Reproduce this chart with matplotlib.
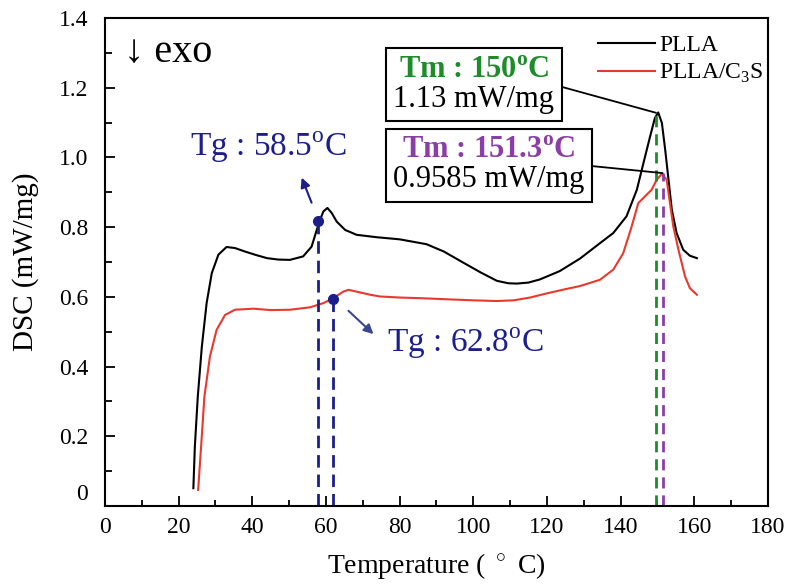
import numpy as np
import matplotlib
matplotlib.use("Agg")
import matplotlib.pyplot as plt
from matplotlib.offsetbox import TextArea, VPacker, AnnotationBbox

plt.rcParams['font.family'] = ['Liberation Serif', 'DejaVu Serif']
plt.rcParams['mathtext.fontset'] = 'custom'
plt.rcParams['mathtext.rm'] = 'Liberation Serif'
plt.rcParams['mathtext.bf'] = 'Liberation Serif:bold'

# PLLA curve
plla_t = [24.0, 24.4, 25.2, 26.3, 27.6, 29.0, 30.8, 33.0, 35.3, 38.0, 41.0, 44.0,
          47.0, 50.2, 53.8, 56.1, 57.5, 58.4, 59.3, 60.4, 61.6, 62.9, 65.2, 68.3,
          73.8, 80.0, 87.3, 92.0, 97.3, 102.0, 106.4, 109.5, 111.8, 115.0, 118.1,
          123.5, 129.0, 134.4, 138.0, 141.6, 144.4, 146.2, 148.0, 149.3, 150.2,
          151.2, 152.1, 153.0, 153.9, 155.2, 157.0, 158.8, 160.7]
plla_dsc = [0.051, 0.170, 0.314, 0.457, 0.582, 0.668, 0.721, 0.743, 0.740, 0.730, 0.720, 0.711,
            0.707, 0.706, 0.716, 0.744, 0.792, 0.821, 0.845, 0.855, 0.840, 0.816, 0.792, 0.778,
            0.771, 0.765, 0.751, 0.730, 0.698, 0.670, 0.646, 0.639, 0.638, 0.641, 0.650,
            0.674, 0.710, 0.754, 0.783, 0.831, 0.907, 0.984, 1.060, 1.113, 1.129,
            1.099, 1.022, 0.936, 0.850, 0.783, 0.735, 0.718, 0.711]

# PLLA/C3S curve
c3s_t = [25.3, 26.1, 27.0, 28.5, 30.3, 32.6, 35.3, 40.3, 45.0, 50.2, 55.7, 59.3,
         62.0, 64.7, 66.1, 68.3, 72.0, 74.7, 80.0, 86.0, 92.8, 100.0, 106.4, 111.0,
         115.4, 120.0, 125.0, 129.0, 134.4, 138.0, 140.7, 143.0, 144.8, 146.6, 148.4,
         149.8, 151.2, 152.5, 153.4, 154.3, 155.7, 157.5, 158.8, 160.7]
c3s_dsc = [0.046, 0.170, 0.314, 0.429, 0.505, 0.548, 0.563, 0.566, 0.562, 0.563, 0.570, 0.582,
           0.596, 0.615, 0.620, 0.615, 0.606, 0.601, 0.598, 0.596, 0.593, 0.590, 0.588, 0.590,
           0.598, 0.610, 0.622, 0.631, 0.649, 0.678, 0.725, 0.802, 0.869, 0.888, 0.907,
           0.936, 0.953, 0.936, 0.869, 0.802, 0.735, 0.658, 0.625, 0.606]

# characteristic points
tg_plla = (57.9, 0.819)
tg_c3s = (62.0, 0.593)
tm_plla = (149.6, 1.128)
tm_c3s = (151.4, 0.955)

x_ticks = [0, 20, 40, 60, 80, 100, 120, 140, 160, 180]
y_ticks = [0, 0.2, 0.4, 0.6, 0.8, 1.0, 1.2, 1.4]
y_labels = ["", "0.2", "0.4", "0.6", "0.8", "1.0", "1.2", "1.4"]

navy = '#1c1f8a'
red = '#e8392f'
green = '#1e8c2a'
purple = '#8a3fa6'

fig = plt.figure(figsize=(7.94, 5.84), dpi=100)
ax = fig.add_axes([0.1322, 0.1336, 0.835, 0.8356])

ax.plot(plla_t, plla_dsc, color='black', lw=1.5, label='PLLA', solid_joinstyle='round')
ax.plot(c3s_t, c3s_dsc, color=red, lw=1.5, label='PLLA/C$_3$S', solid_joinstyle='round')

# dashed markers of Tg / Tm
ax.vlines(tg_plla[0], 0, tg_plla[1], colors=navy, lw=2, linestyles=(0, (4.5, 2.5)))
ax.vlines(tg_c3s[0], 0, tg_c3s[1], colors=navy, lw=2, linestyles=(0, (4.5, 2.5)))
ax.vlines(tm_plla[0], 0, tm_plla[1], colors=green, lw=2, linestyles=(0, (4, 2.5)))
ax.vlines(tm_c3s[0], 0, tm_c3s[1], colors=purple, lw=2, linestyles=(0, (4, 2.5)))
ax.plot([tg_plla[0], tg_c3s[0]], [tg_plla[1], tg_c3s[1]], 'o', color=navy, ms=7, zorder=5)

# Tg labels
ax.text(23.1, 1.028, "Tg : 58.5$^{\\mathrm{o}}$C", color=navy, fontsize=24, ha='left', va='center')
ax.annotate("", xy=(53.4, 0.942), xytext=(56.1, 0.87),
            arrowprops=dict(arrowstyle='-|>', color=navy, lw=1.5, mutation_scale=14,
                            shrinkA=0, shrinkB=0))
ax.text(76.5, 0.468, "Tg : 62.8$^{\\mathrm{o}}$C", color=navy, fontsize=24, ha='left', va='center')
ax.annotate("", xy=(72.9, 0.493), xytext=(66.1, 0.56),
            arrowprops=dict(arrowstyle='-|>', color='#3a4690', lw=1.5, mutation_scale=14,
                            shrinkA=0, shrinkB=0))

ax.text(0.028, 0.93, "\u2193 exo", transform=ax.transAxes, fontsize=29, ha='left', va='center')


def tm_box(title, value, color, point, ybox):
    t1 = TextArea(title, textprops=dict(color=color, fontsize=22, fontweight='bold'))
    t2 = TextArea(value, textprops=dict(color='black', fontsize=22))
    pack = VPacker(children=[t1, t2], align='center', pad=0, sep=0)
    ab = AnnotationBbox(pack, xy=point, xycoords='data', xybox=(0.435, ybox),
                        boxcoords='axes fraction', box_alignment=(0, 0.5), frameon=True,
                        pad=0.25, fontsize=22,
                        bboxprops=dict(edgecolor='black', lw=1.5, boxstyle='square,pad=0.25'),
                        arrowprops=dict(arrowstyle='-', color='black', lw=1.3, relpos=(1, 0.5),
                                        shrinkA=0, shrinkB=0))
    ax.add_artist(ab)


tm_box("Tm : 150$^{\\mathbf{o}}$C", "1.13 mW/mg", green, tm_plla, 0.863)
tm_box("Tm : 151.3$^{\\mathbf{o}}$C", "0.9585 mW/mg", purple, tm_c3s, 0.698)

ax.legend(loc='upper right', bbox_to_anchor=(1.008, 0.986), frameon=False, fontsize=17,
          handlelength=2.4, handletextpad=0.2, labelspacing=0.27, borderaxespad=0)

ax.set_xlim(0, 180)
ax.set_ylim(0, 1.4)
ax.set_xticks(x_ticks)
ax.set_xticks(np.arange(10, 180, 20), minor=True)
ax.set_yticks(y_ticks)
ax.set_yticklabels(y_labels)
ax.set_yticks(np.arange(0.1, 1.4, 0.2), minor=True)
ax.tick_params(which='both', direction='in', labelsize=17, top=False, right=False)
ax.tick_params(axis='x', which='major', length=7, width=1.3, pad=8)
ax.tick_params(axis='x', which='minor', length=4, width=1.3)
ax.tick_params(axis='y', which='major', length=7, width=1.3, pad=12)
ax.tick_params(axis='y', which='minor', length=5, width=1.3)
ax.annotate("0", xy=(0, 0), xycoords=ax.get_yaxis_transform(), xytext=(-12, 8),
            textcoords='offset points', ha='right', va='center', fontsize=17)
for s in ax.spines.values():
    s.set_linewidth(1.5)

ax.set_xlabel("Temperature ( $^\\circ$ C)", fontsize=20, labelpad=10)
ax.set_ylabel("DSC (mW/mg)", fontsize=21, labelpad=14)

fig.savefig("out.png", dpi=100)
